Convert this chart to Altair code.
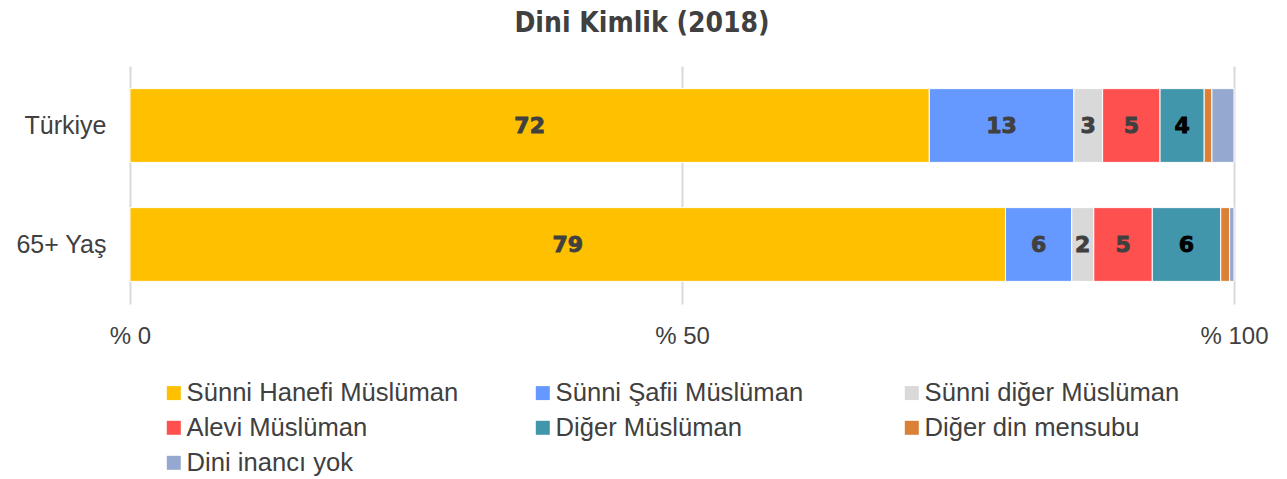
import altair as alt
import pandas as pd

categories = ["Türkiye", "65+ Yaş"]
series = ["Sünni Hanefi Müslüman", "Sünni Şafii Müslüman", "Sünni diğer Müslüman",
          "Alevi Müslüman", "Diğer Müslüman", "Diğer din mensubu", "Dini inancı yok"]
turkiye = [72.4, 13.1, 2.6, 5.2, 4.0, 0.7, 2.0]
yas65 = [79.3, 6.0, 2.0, 5.3, 6.2, 0.8, 0.4]
colors = ["#FFC000", "#6699FF", "#D9D9D9", "#FF5050", "#4296AB", "#DA8137", "#95A9D0"]
labelled_series = series[:5]
tick_values = [0, 50, 100]

rows = []
for cat, vals in zip(categories, [turkiye, yas65]):
    for i, (s, v) in enumerate(zip(series, vals)):
        rows.append({"category": cat, "series": s, "value": v, "order": i,
                     "labelled": s in labelled_series})
df = pd.DataFrame(rows)

FONT = "Liberation Sans, Arial, sans-serif"
TXT = "#404040"

base = alt.Chart(df).transform_stack(
    stack="value", groupby=["category"], as_=["x0", "x1"],
    sort=[alt.SortField("order", order="ascending")]
).transform_calculate(mid="(datum.x0 + datum.x1) / 2")

y_enc = alt.Y("category:N", sort=categories,
              scale=alt.Scale(paddingInner=0.38, paddingOuter=0.19),
              axis=alt.Axis(title=None, ticks=False, domain=False, labelFontSize=25,
                            labelColor=TXT, labelFont=FONT, labelPadding=24))

bars = base.mark_bar(stroke="white", strokeWidth=1).encode(
    y=y_enc,
    x=alt.X("x0:Q", scale=alt.Scale(domain=[0, 100], nice=False),
            axis=alt.Axis(title=None, values=tick_values, labelExpr="'% ' + datum.value",
                          ticks=False, domain=False, labelFontSize=24, labelColor=TXT,
                          labelFont=FONT, labelPadding=20, labelFlush=False,
                          gridColor="#D9D9D9", gridWidth=2)),
    x2="x1:Q",
    color=alt.Color("series:N", sort=series,
                    scale=alt.Scale(domain=series, range=colors),
                    legend=alt.Legend(title=None, orient="none", legendX=31, legendY=314,
                                      direction="horizontal",
                                      columns=3, gridAlign="all", columnPadding=71,
                                      rowPadding=8, symbolType="square", symbolSize=196,
                                      symbolStrokeWidth=0, labelFontSize=25.6, labelColor=TXT,
                                      labelFont=FONT, labelOffset=0, padding=0, labelLimit=400)),
)

is_teal = "datum.series == 'Diğer Müslüman'"
text = base.transform_filter("datum.labelled").mark_text(
    font="DejaVu Sans, sans-serif", fontWeight="bold", fontSize=22, strokeWidth=0.9
).encode(
    y=alt.Y("category:N", sort=categories),
    x="mid:Q",
    text=alt.Text("value:Q", format=".0f"),
    color=alt.condition(is_teal, alt.value("#000000"), alt.value(TXT)),
    stroke=alt.condition(is_teal, alt.value("#000000"), alt.value(TXT)),
)

chart = alt.layer(bars, text).properties(
    width=1104, height=238,
    title=alt.TitleParams("Dini Kimlik (2018)", fontSize=28, fontWeight="bold",
                          font="Liberation Sans Narrow, DejaVu Sans Condensed, sans-serif",
                          color=TXT, anchor="middle", dx=-40, offset=28),
    padding={"left": 130, "top": 66, "right": 53, "bottom": 175},
    autosize=alt.AutoSizeParams(type="none"),
).configure_view(stroke=None)

chart.save("out.html", embed_options={"renderer": "svg", "actions": False})
